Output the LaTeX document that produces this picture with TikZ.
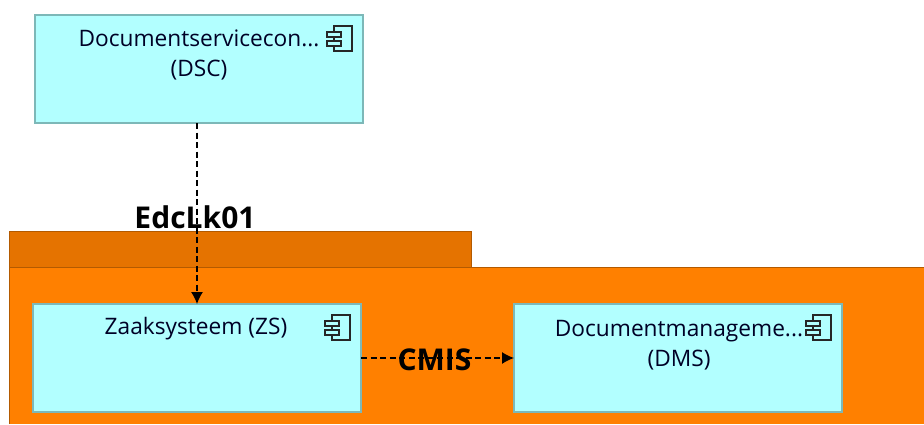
\documentclass[tikz,border=0pt]{standalone}
\usepackage{fontspec}
\setmainfont{Open Sans}
\usetikzlibrary{positioning,arrows.meta}
\definecolor{compfill}{HTML}{B2FFFF}
\definecolor{compline}{HTML}{7DB8B8}
\definecolor{grouporange}{HTML}{FF8000}
\definecolor{grouptab}{HTML}{E57300}
\definecolor{groupline}{HTML}{B35A00}
\newcommand{\CompWidth}{328}
\newcommand{\CompHeight}{108}
\tikzset{
	comp/.style={draw=compline, fill=compfill, line width=1.5pt, minimum width=\CompWidth pt, minimum height=\CompHeight pt, outer sep=0pt},
	complabel/.style={align=center, font=\fontsize{22.7}{30}\selectfont, text=black!85!blue, inner sep=0pt},
	flow/.style={dashed, dash pattern=on 6pt off 3.5pt, line width=1.3pt, -{Latex[length=12pt,width=12pt]}},
	flowlabel/.style={font=\fontsize{30}{32}\selectfont\bfseries, inner sep=0pt},
	compicon/.pic={
		\draw[line width=1.6pt, black!85] (-29,11) rectangle (-11,36);
		\draw[line width=1.6pt, black!85, fill=compfill] (-36,17) rectangle (-22,22);
		\draw[line width=1.6pt, black!85, fill=compfill] (-36,26) rectangle (-22,31);
	},
}
\begin{document}
\begin{tikzpicture}[x=1pt, y=-1pt]
	\useasboundingbox (0,0) rectangle (924,424);
	% package group
	\fill[grouporange] (9,267) rectangle (924,424);
	\draw[groupline, line width=1pt] (9,424) -- (9,267) -- (924,267);
	\draw[groupline, fill=grouptab, line width=1pt] (9,267) rectangle (471,231);

	\node[comp] (dsc) at (199,69) {};
	\node[comp] (zs) at (197,358) {};
	\node[comp, right=153pt of zs] (dms) {};

	\node[complabel, below=15pt of dsc.north] (dsclabel) {Documentservicecon...\\(DSC)};
	\node[complabel, below=13pt of zs.north, xshift=-1pt] (zslabel) {Zaaksysteem (ZS)};
	\node[complabel, below=16pt of dms.north, xshift=1pt] (dmslabel) {Documentmanageme...\\(DMS)};

	\pic at (dsc.north east) {compicon};
	\pic at (zs.north east) {compicon};
	\pic at (dms.north east) {compicon};

	\draw[flow] (zs.north |- dsc.south) -- (zs.north) node[flowlabel, pos=0.52, xshift=-2pt] (edclabel) {EdcLk01};
	\draw[flow] (zs.east) -- (dms.west) node[flowlabel, pos=0.48, yshift=-2pt] (cmislabel) {CMIS};
\end{tikzpicture}
\end{document}
